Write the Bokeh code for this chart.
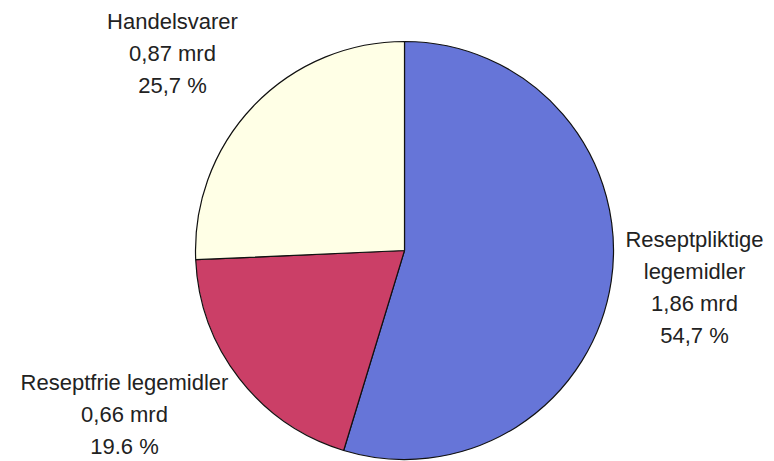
import numpy as np
from bokeh.plotting import figure
from bokeh.models import ColumnDataSource, Range1d
from bokeh.core.properties import value
from bokeh.embed import file_html
from bokeh.resources import INLINE

# ---- data ----
categories = ["Reseptpliktige\nlegemidler", "Reseptfrie legemidler", "Handelsvarer"]
amounts_mrd = [1.86, 0.66, 0.87]
amount_labels = ["1,86 mrd", "0,66 mrd", "0,87 mrd"]
percents = [54.7, 19.6, 25.7]
percent_labels = ["54,7 %", "19.6 %", "25,7 %"]
colors = ["#6675D8", "#CB3F67", "#FFFFE6"]

W, H = 774, 461
p = figure(width=W, height=H, output_backend="svg", toolbar_location=None,
           x_range=Range1d(0, W), y_range=Range1d(0, H), min_border=0)
p.axis.visible = False
p.grid.visible = False
p.outline_line_color = None
p.background_fill_color = "white"

cx, cy, r = 404, 211, 209
pct = np.array(percents)
cum = np.concatenate([[0], np.cumsum(pct)]) / pct.sum()
start = np.pi / 2 - 2 * np.pi * cum[:-1]
end = np.pi / 2 - 2 * np.pi * cum[1:]
src = ColumnDataSource(dict(start=start, end=end, color=colors))
p.wedge(x=cx, y=cy, radius=r, start_angle="start", end_angle="end",
        direction="clock", fill_color="color", line_color="#111111",
        line_width=1.2, source=src)

# label anchors (layout)
lx = [694, 124, 172]
ly = [174, 47, 408]
texts = [f"{c}\n{a}\n{q}" for c, a, q in zip(categories, amount_labels, percent_labels)]
lsrc = ColumnDataSource(dict(x=lx, y=ly, t=texts))
p.text(x="x", y="y", text="t", source=lsrc, text_align="center",
       text_baseline="middle", text_font=value("Liberation Sans"),
       text_font_size="22px", text_color="#222222", text_line_height=1.28)

open("out.html", "w").write(file_html(p, INLINE))
